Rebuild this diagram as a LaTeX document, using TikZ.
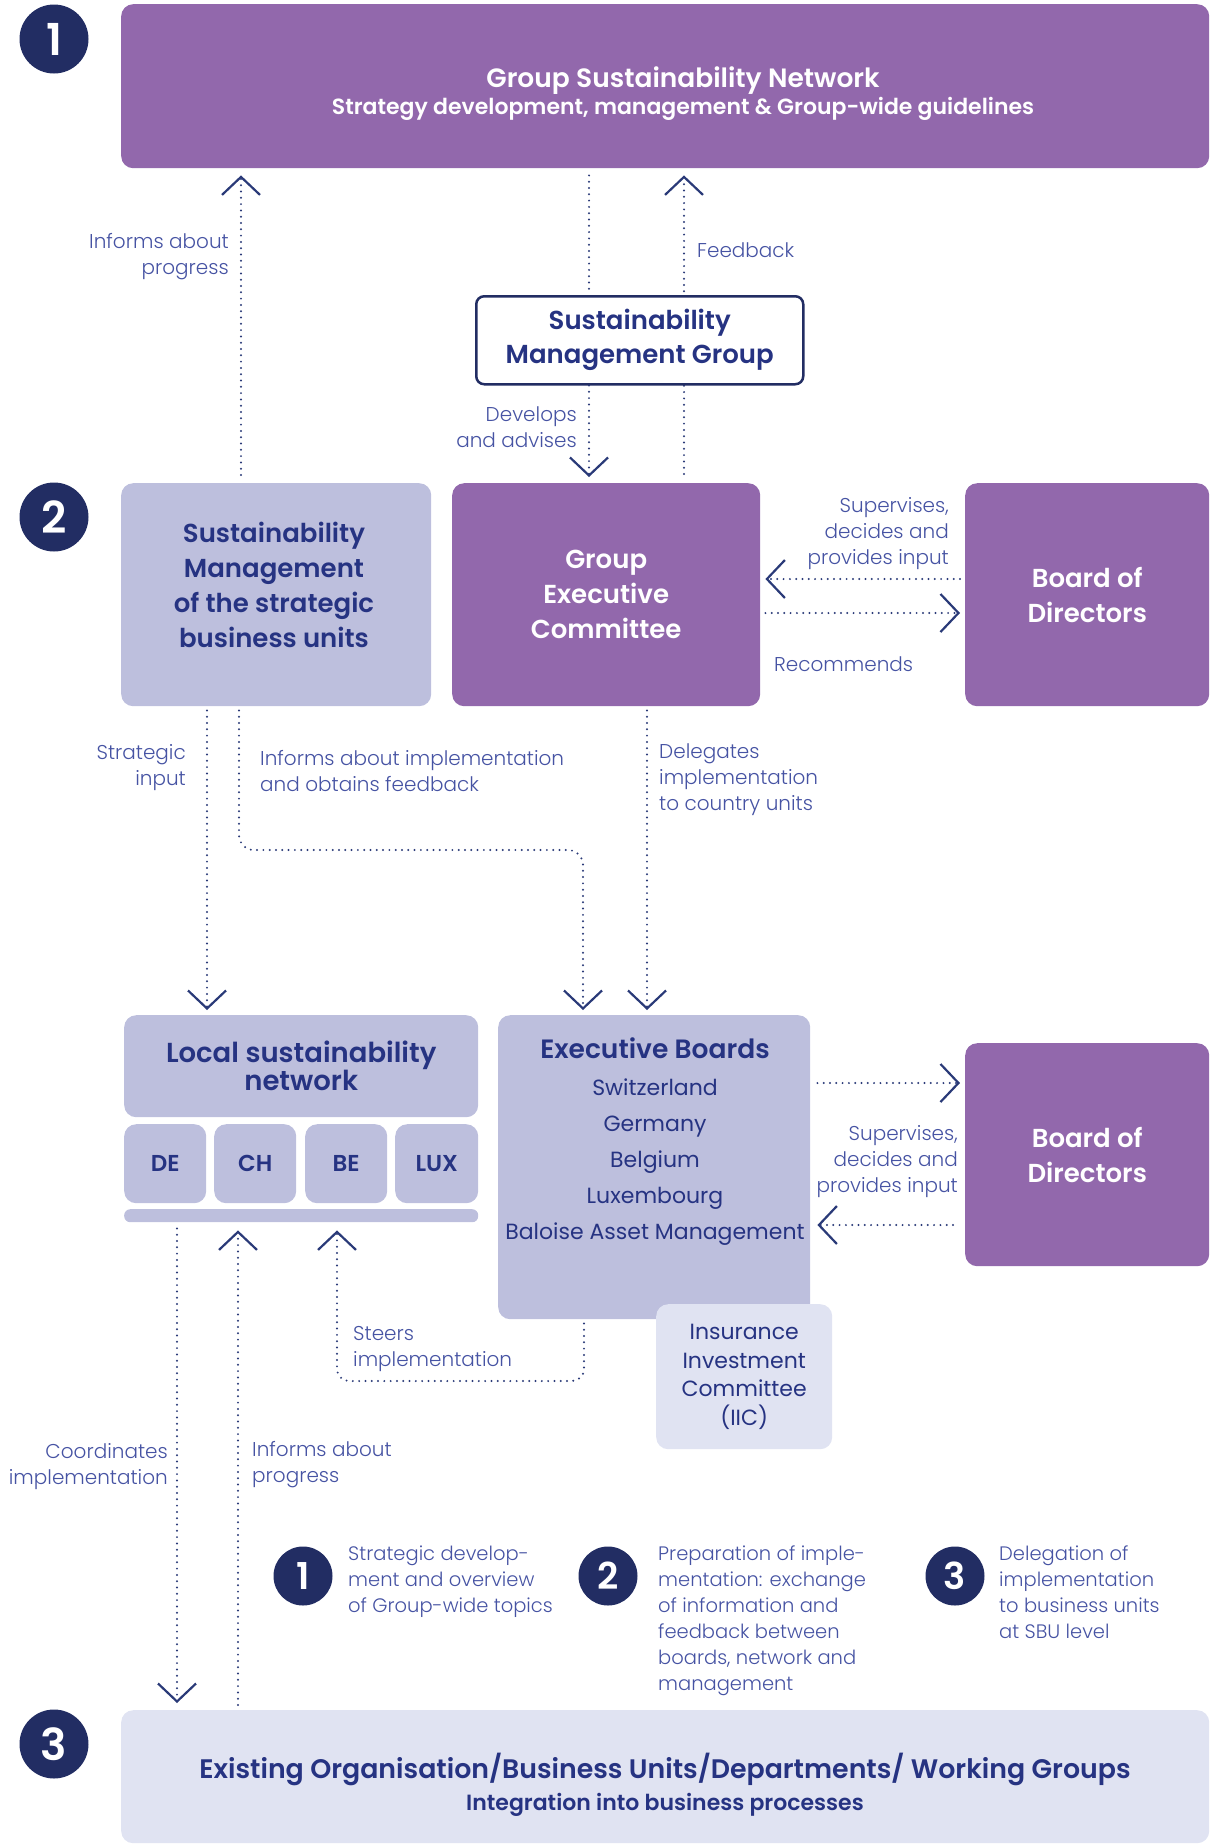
\documentclass[tikz,border=0pt]{standalone}
\usepackage{fontspec}
\setmainfont{Poppins}[BoldFont={Poppins SemiBold}]
\newfontfamily\lightfont{Poppins Light}
\usetikzlibrary{arrows.meta}
\definecolor{purp}{HTML}{9268AC}
\definecolor{lav}{HTML}{BDBFDD}
\definecolor{pale}{HTML}{E0E3F2}
\definecolor{navy}{HTML}{222D63}
\definecolor{boxtxt}{HTML}{263382}
\definecolor{labtxt}{HTML}{4653A3}
\definecolor{dotc}{HTML}{2A3A78}
\tikzset{
  box/.style={rounded corners=12pt, inner sep=0pt, align=center, anchor=north west},
  purplebox/.style={box, fill=purp, text=white, font=\bfseries\fontsize{26}{35}\selectfont},
  lavbox/.style={box, fill=lav, text=boxtxt, font=\bfseries\fontsize{26}{35}\selectfont},
  palebox/.style={box, fill=pale, text=boxtxt},
  num/.style={circle, fill=navy, text=white, minimum size=69pt, inner sep=0pt, font=\bfseries\fontsize{44}{44}\selectfont},
  lnum/.style={num, minimum size=59pt, font=\bfseries\fontsize{37}{37}\selectfont},
  lab/.style={text=labtxt, font=\lightfont\fontsize{20}{26}\selectfont, inner sep=0pt},
  flow/.style={draw=dotc, line width=2.2pt, dash pattern=on 0pt off 6.3pt, line cap=round},
  tipend/.style={-{Straight Barb[length=18pt,width=38pt,line width=2.2pt]}},
}
\begin{document}
\begin{tikzpicture}[x=1pt,y=-1pt]
\useasboundingbox (0,0) rectangle (1210,1845);
% x reference coordinates
\coordinate (xa) at (241,0);
\coordinate (xb) at (589,0);
\coordinate (xc) at (684,0);
\coordinate (xd) at (207,0);
\coordinate (xe) at (239,0);
\coordinate (xf) at (583,0);
\coordinate (xg) at (647,0);
\coordinate (xh) at (177,0);
\coordinate (xi) at (238,0);
\coordinate (xj) at (584,0);
\coordinate (xk) at (337,0);
\coordinate (ya) at (0,579);
\coordinate (yb) at (0,613);
\coordinate (yc) at (0,1083);
\coordinate (yd) at (0,1225);
\coordinate (ye) at (0,850);
\coordinate (yf) at (0,1381);

% level 1
\node[purplebox, minimum width=1088pt, minimum height=164pt] (gsn) at (121,4) {};
\node[text=white, font=\bfseries\fontsize{26.5}{30}\selectfont, inner sep=0pt] (gsnt) at (683,81) {Group Sustainability Network};
\node[text=white, font=\bfseries\fontsize{22}{26}\selectfont, inner sep=0pt] (gsns) at (683,109) {Strategy development, management \& Group-wide guidelines};
\node[num] (c1) at (54,39) {1};

% level 2
\node[lavbox, minimum width=310pt, minimum height=223pt] (smbu) at (121,483) {};
\node[text=boxtxt, align=center, inner sep=0pt, font=\bfseries\fontsize{26}{35}\selectfont] (smbut) at (274,585) {Sustainability\\Management\\of the strategic\\business units};
\node[purplebox, minimum width=308pt, minimum height=223pt] (gec) at (452,483) {Group\\Executive\\Committee};
\node[purplebox, minimum width=244pt, minimum height=223pt] (bod1) at (965,483) {Board of\\Directors};
\node[num] (c2) at (54,517) {2};

% connectors level 1-2 (drawn before SMG box)
\draw[flow, tipend, shorten <=8pt, shorten >=7pt] (smbu.north -| xa) -- (gsn.south -| xa);
\draw[flow, tipend, shorten <=9pt, shorten >=7pt] (gec.north -| xc) -- (gsn.south -| xc);
\node[box, fill=white, draw=navy, line width=2.5pt, rounded corners=8pt, minimum width=327pt, minimum height=88pt, text=boxtxt, font=\bfseries\fontsize{26}{34}\selectfont] (smg) at (475,295) {Sustainability\\Management Group};
\draw[flow, shorten <=7pt] (gsn.south -| xb) -- (smg.north -| xb);
\draw[flow, tipend, shorten >=6pt] (smg.south -| xb) -- (gec.north -| xb);

\node[lab, align=right, anchor=east] (l1) at (229,257) {Informs about\\progress};
\node[lab, anchor=west] (l2) at (697,250) {Feedback};
\node[lab, align=right, anchor=east] (l3) at (577,427) {Develops\\and advises};

% gec <-> bod1
\draw[flow, tipend, shorten <=5pt, shorten >=5pt] (bod1.west |- ya) -- (gec.east |- ya);
\draw[flow, tipend, shorten <=5pt, shorten >=5pt] (gec.east |- yb) -- (bod1.west |- yb);
\node[lab, align=right, anchor=east] (l4) at (949,534) {Supervises,\\decides and\\provides input};
\node[lab, anchor=west] (l5) at (774,664) {Recommends};

% level 2.5
\node[lavbox, minimum width=354pt, minimum height=102pt, font=\bfseries\fontsize{27.5}{28}\selectfont] (lsn) at (124,1015) {Local sustainability\\network};
\node[lavbox, minimum width=82pt, minimum height=79pt, font=\bfseries\fontsize{23}{24}\selectfont] (de) at (124,1124) {DE};
\node[lavbox, minimum width=82pt, minimum height=79pt, font=\bfseries\fontsize{23}{24}\selectfont] (ch) at (214,1124) {CH};
\node[lavbox, minimum width=82pt, minimum height=79pt, font=\bfseries\fontsize{23}{24}\selectfont] (be) at (305,1124) {BE};
\node[lavbox, minimum width=83pt, minimum height=79pt, font=\bfseries\fontsize{23}{24}\selectfont] (lux) at (395,1124) {LUX};
\node[box, fill=lav, rounded corners=6pt, minimum width=354pt, minimum height=13pt] (bar) at (124,1209) {};

\node[lavbox, minimum width=312pt, minimum height=304pt] (eb) at (498,1015) {};
\node[text=boxtxt, align=center, inner sep=0pt, font=\fontsize{22}{36}\selectfont] (ebt) at (655,1142) {{\bfseries\fontsize{26.5}{28}\selectfont Executive Boards}\\[1pt]Switzerland\\Germany\\Belgium\\Luxembourg\\Baloise Asset Management};
\node[palebox, minimum width=176pt, minimum height=145pt, font=\fontsize{22}{28.5}\selectfont] (iic) at (656,1304) {Insurance\\Investment\\Committee\\(IIC)};
\node[purplebox, minimum width=244pt, minimum height=223pt] (bod2) at (965,1043) {Board of\\Directors};

% level 2 -> 2.5 connectors
\draw[flow, tipend, shorten <=4pt, shorten >=5pt] (smbu.south -| xd) -- (lsn.north -| xd);
\draw[flow, tipend, rounded corners=15pt, shorten <=4pt, shorten >=5pt] (smbu.south -| xe) -- (xe |- ye) -- (xf |- ye) -- (eb.north -| xf);
\draw[flow, tipend, shorten <=4pt, shorten >=5pt] (gec.south -| xg) -- (eb.north -| xg);
\node[lab, align=right, anchor=east] (l6) at (186,768) {Strategic\\input};
\node[lab, align=left, anchor=west] (l7) at (260,771) {Informs about implementation\\and obtains feedback};
\node[lab, align=left, anchor=west] (l8) at (659,780) {Delegates\\implementation\\to country units};

% eb <-> bod2
\draw[flow, tipend, shorten <=7pt, shorten >=5pt] (eb.east |- yc) -- (bod2.west |- yc);
\draw[flow, tipend, shorten <=12pt, shorten >=7pt] (bod2.west |- yd) -- (eb.east |- yd);
\node[lab, align=right, anchor=east] (l9) at (958,1162) {Supervises,\\decides and\\provides input};

% level 3
\node[palebox, minimum width=1088pt, minimum height=133pt] (bot) at (121,1710) {};
\node[text=boxtxt, inner sep=0pt, font=\bfseries\fontsize{26.8}{30}\selectfont] (bott) at (665,1769) {Existing Organisation/Business Units/Departments/ Working Groups};
\node[text=boxtxt, inner sep=0pt, font=\bfseries\fontsize{22}{26}\selectfont] (bots) at (665,1805) {Integration into business processes};
\node[num] (c3) at (54,1744) {3};

\draw[flow, tipend, shorten <=6pt, shorten >=7pt] (bar.south -| xh) -- (bot.north -| xh);
\draw[flow, tipend, shorten <=5pt, shorten >=8pt] (bot.north -| xi) -- (bar.south -| xi);
\draw[flow, tipend, rounded corners=12pt, shorten <=4pt, shorten >=8pt] (eb.south -| xj) -- (xj |- yf) -- (xk |- yf) -- (bar.south -| xk);
\node[lab, align=right, anchor=east] (l10) at (168,1467) {Coordinates\\implementation};
\node[lab, align=left, anchor=west] (l11) at (252,1465) {Informs about\\progress};
\node[lab, align=left, anchor=west] (l12) at (353,1349) {Steers\\implementation};

% legend
\node[lnum] (k1) at (303,1576) {1};
\node[lnum] (k2) at (608,1576) {2};
\node[lnum] (k3) at (955,1576) {3};
\node[lab, align=left, anchor=north west, font=\lightfont\fontsize{19.5}{26}\selectfont] (t1) at (348,1546) {Strategic develop-\\ment and overview\\of Group-wide topics};
\node[lab, align=left, anchor=north west, font=\lightfont\fontsize{19.5}{26}\selectfont] (t2) at (658,1546) {Preparation of imple-\\mentation: exchange\\of information and\\feedback between\\boards, network and\\management};
\node[lab, align=left, anchor=north west, font=\lightfont\fontsize{19.5}{26}\selectfont] (t3) at (999,1546) {Delegation of\\implementation\\to business units\\at SBU level};
\end{tikzpicture}
\end{document}
